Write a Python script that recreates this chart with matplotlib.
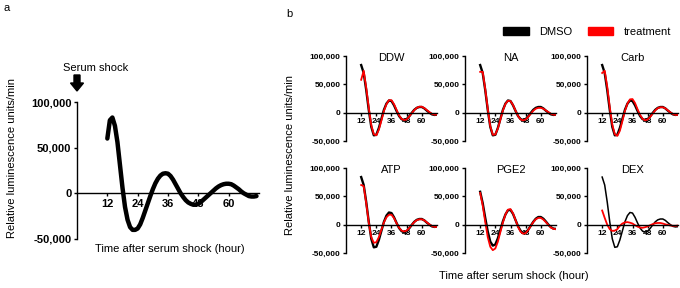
import numpy as np
import matplotlib
matplotlib.use("Agg")
from matplotlib import pyplot as plt
from matplotlib.patches import Patch, FancyArrow

plt.rcParams['font.family'] = ['Liberation Sans', 'DejaVu Sans']

# panel a: hourly DMSO trace
hours_a = np.arange(12, 72)
dmso_a = [60000, 80000, 83000, 74000, 56000, 31000, 6000, -15000, -29000, -37000,
          -40000, -40000, -38500, -34000, -27000, -19000, -11000, -3000, 4500, 11000,
          16000, 19500, 21500, 22000, 21500, 19000, 15000, 10000, 5000, 0,
          -4000, -7500, -10000, -11500, -12500, -12500, -11500, -9500, -7000, -4500,
          -2000, 500, 3000, 5500, 7500, 9000, 10000, 10500, 10500, 10000,
          8500, 6500, 4500, 2000, 0, -1500, -3000, -3500, -3500, -3000]

# panel b: traces every 2 h
hours_b = np.arange(12, 73, 2)
dmso_b = [84000, 70000, 40000, 5000, -25000, -40000, -39000, -27000, -11000, 5000,
          16000, 21500, 20500, 13000, 3000, -6000, -11500, -13000, -11500, -6500,
          -500, 5000, 8500, 10000, 10000, 7500, 3500, 0, -3000, -4000, -3500]
dmso_pge2 = [58000, 38000, 12000, -12000, -30000, -37000, -35000, -24000, -9000, 6000,
             18000, 25500, 26000, 19000, 8000, -3000, -11000, -15000, -14500, -9000,
             -2000, 5000, 10500, 13500, 13500, 10500, 5500, 0, -4500, -7000, -7500]

ddw = [58000, 74000, 44000, 9000, -22000, -38000, -40000, -30000, -14000, 3000,
       15000, 22000, 22000, 15000, 5000, -5000, -11000, -13000, -12000, -7000,
       -1000, 4500, 8500, 10500, 10500, 8000, 4500, 1000, -2000, -3500, -3500]
na = [72000, 72000, 42000, 7000, -24000, -39000, -38500, -28000, -12000, 4000,
      15500, 21000, 20500, 13500, 3500, -6000, -12000, -13500, -12000, -7500,
      -2000, 3500, 7000, 8500, 8500, 7000, 4000, 1000, -2000, -3500, -4000]
carb = [70000, 74000, 46000, 10000, -21000, -38000, -41000, -32000, -15000, 3000,
        16000, 23500, 24000, 17000, 6000, -4000, -11000, -13500, -12000, -7500,
        -1500, 4000, 8000, 9500, 9500, 7500, 4000, 500, -2500, -4000, -4000]
atp = [70000, 68000, 38000, 4000, -22000, -32000, -31000, -22000, -9000, 4000,
       13000, 17500, 17500, 11500, 2500, -5500, -10500, -12000, -10500, -6000,
       -500, 4500, 8000, 9500, 9500, 7500, 4000, 500, -2500, -4000, -4000]
pge2 = [56000, 34000, 5000, -22000, -39000, -45000, -42000, -30000, -13000, 4000,
        18000, 26500, 27500, 20000, 8000, -4000, -12500, -16000, -15000, -9500,
        -2500, 4500, 9500, 12000, 12000, 9000, 4500, -500, -5000, -7500, -8000]
dex = [25000, 12000, 0, -8000, -11000, -10500, -8000, -2000, 2000, 4000,
       4500, 3500, 2000, -1000, -3500, -5000, -5500, -4500, -3000, -1000,
       1000, 2500, 3000, 3000, 2000, 500, -500, -1500, -2000, -2000, -1500]

panel_names = ['DDW', 'NA', 'Carb', 'ATP', 'PGE2', 'DEX']
treatments = [ddw, na, carb, atp, pge2, dex]
controls = [dmso_b, dmso_b, dmso_b, dmso_b, dmso_pge2, dmso_b]

yticks = [-50000, 0, 50000, 100000]
ytick_labels = ['-50,000', '0', '50,000', '100,000']
xticks = [12, 24, 36, 48, 60]


def style_axes(ax, fs):
    ax.spines['top'].set_visible(False)
    ax.spines['right'].set_visible(False)
    ax.spines['bottom'].set_position(('data', 0))
    ax.set_xlim(0, 72)
    ax.set_ylim(-50000, 100000)
    ax.set_xticks(xticks)
    ax.set_xticklabels([str(t) for t in xticks], fontsize=fs, fontweight='bold')
    ax.set_yticks(yticks)
    ax.set_yticklabels(ytick_labels, fontsize=fs, fontweight='bold')
    ax.tick_params(length=2.5, width=1, pad=1.5)
    for s in ['left', 'bottom']:
        ax.spines[s].set_linewidth(1)


fig = plt.figure(figsize=(6.8, 2.88), dpi=100)

# panel a
ax_a = fig.add_axes([77 / 680, 1 - 239 / 288, 182 / 680, 137 / 288])
style_axes(ax_a, 8)
ax_a.plot(hours_a, dmso_a, color='black', lw=3.2, solid_capstyle='round')
fig.text(170 / 680, 1 - 249 / 288, 'Time after serum shock (hour)', fontsize=8,
         ha='center', va='center')
fig.text(12 / 680, 1 - 158 / 288, 'Relative luminescence units/min', fontsize=8,
         rotation=90, ha='center', va='center')
fig.text(96 / 680, 1 - 68 / 288, 'Serum shock', fontsize=8, ha='center', va='center')
fig.patches.append(FancyArrow(0.77, 2.13, 0, -0.16, width=0.06, head_width=0.13,
                              head_length=0.08, length_includes_head=True,
                              color='black', transform=fig.dpi_scale_trans))
fig.text(3 / 680, 1 - 8 / 288, 'a', fontsize=8, ha='left', va='center')
fig.text(286 / 680, 1 - 14 / 288, 'b', fontsize=8, ha='left', va='center')

# panel b
lefts = [346, 465, 587]
bottoms = [141, 253]
for i, name in enumerate(panel_names):
    r, c = divmod(i, 3)
    ax = fig.add_axes([lefts[c] / 680, 1 - bottoms[r] / 288, 91 / 680, 85 / 288])
    style_axes(ax, 6)
    black_lw = 1.1 if name == 'DEX' else 1.7
    ax.plot(hours_b, controls[i], color='black', lw=black_lw)
    ax.plot(hours_b, treatments[i], color='red', lw=1.3)
    ax.text(0.5, 0.975, name, transform=ax.transAxes, fontsize=8,
            ha='center', va='center')

fig.text(290 / 680, 1 - 155 / 288, 'Relative luminescence units/min', fontsize=8,
         rotation=90, ha='center', va='center')
fig.text(514 / 680, 1 - 276 / 288, 'Time after serum shock (hour)', fontsize=8,
         ha='center', va='center')

handles = [Patch(color='black', label='DMSO'), Patch(color='red', label='treatment')]
fig.legend(handles=handles, loc='center', bbox_to_anchor=(587 / 680, 1 - 32 / 288),
           ncol=2, frameon=False, fontsize=8, handlelength=2.3, handleheight=0.7,
           columnspacing=1.45, handletextpad=0.9)

fig.savefig('out.png', dpi=100)
